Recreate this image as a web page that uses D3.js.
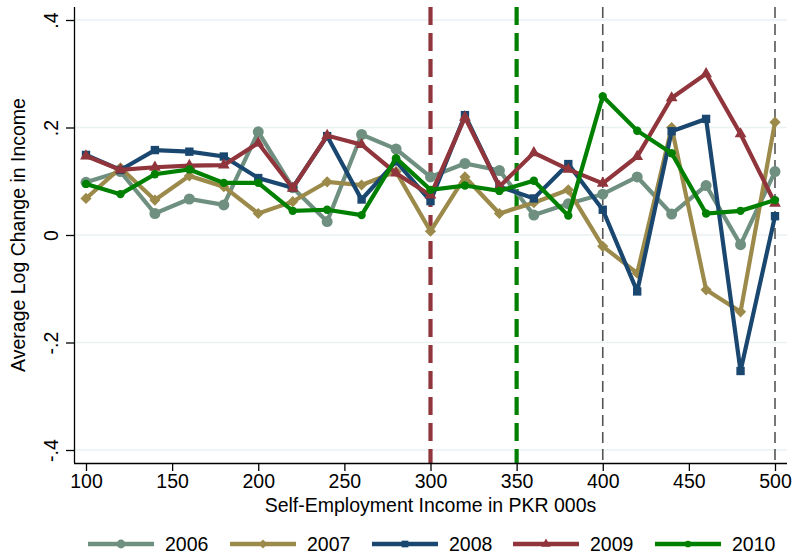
<!DOCTYPE html>
<html>
<head>
<meta charset="utf-8">
<script src="https://cdn.jsdelivr.net/npm/d3@7"></script>
<style>
  body { margin: 0; background: #fff; }
  text { font-family: "Liberation Sans", Arial, sans-serif; fill: #000; }
</style>
</head>
<body>
<svg id="chart" width="793" height="556"></svg>
<script>
// Income bins (PKR 000s)
const incomeLevels = [100,120,140,160,180,200,220,240,260,280,300,320,340,360,380,400,420,440,460,480,500];

// Average log change in income, by survey year
const series2006 = [0.098,0.118,0.040,0.067,0.056,0.192,0.088,0.025,0.187,0.160,0.108,0.133,0.120,0.037,0.058,0.076,0.108,0.039,0.092,-0.018,0.118];
const series2007 = [0.068,0.125,0.065,0.110,0.090,0.040,0.062,0.099,0.093,0.118,0.007,0.108,0.040,0.060,0.084,-0.021,-0.071,0.200,-0.102,-0.143,0.210];
const series2008 = [0.149,0.121,0.158,0.155,0.146,0.106,0.088,0.184,0.066,0.137,0.063,0.223,0.090,0.068,0.132,0.047,-0.105,0.193,0.216,-0.253,0.035];
const series2009 = [0.147,0.121,0.126,0.129,0.130,0.171,0.087,0.185,0.168,0.115,0.074,0.219,0.090,0.153,0.122,0.096,0.146,0.255,0.300,0.188,0.059];
const series2010 = [0.095,0.076,0.113,0.122,0.097,0.097,0.045,0.047,0.037,0.143,0.084,0.092,0.082,0.101,0.036,0.258,0.194,0.152,0.040,0.045,0.065];

const years = ["2006","2007","2008","2009","2010"];
const xTicks = [100,150,200,250,300,350,400,450,500];
const yTicks = [-0.4,-0.2,0,0.2,0.4];
const yTickLabels = ["-.4","-.2","0",".2",".4"];
const thresholdLines = [300,350];
const referenceLines = [400,500];

const xTitle = "Self-Employment Income in PKR 000s";
const yTitle = "Average Log Change in Income";

// Styles
const colors = ["#6f9081","#9c8a4b","#1a476f","#90353b","#008000"];
const shapes = ["circle","diamond","square","triangle","smallcircle"];
const thresholdColors = ["#90353b","#008000"];

const svg = d3.select("#chart");
const FONT = 19.5;

const x = d3.scaleLinear().domain([100,500]).range([86,775]);
const y = d3.scaleLinear().domain([-0.4,0.4]).range([450,20]);

const axisX = 74, axisY = 463, plotRight = 787, plotTop = 7;

// gridlines
svg.append("g").selectAll("line").data(yTicks).join("line")
  .attr("x1", axisX).attr("x2", plotRight)
  .attr("y1", d => y(d)).attr("y2", d => y(d))
  .attr("stroke", "#eaf2f3").attr("stroke-width", 1.3);

// threshold and reference lines
svg.append("g").selectAll("line").data(referenceLines).join("line")
  .attr("x1", d => x(d)).attr("x2", d => x(d))
  .attr("y1", plotTop).attr("y2", axisY)
  .attr("stroke", "#555").attr("stroke-width", 1.6)
  .attr("stroke-dasharray", "11,6");

svg.append("g").selectAll("line").data(thresholdLines).join("line")
  .attr("x1", d => x(d)).attr("x2", d => x(d))
  .attr("y1", plotTop).attr("y2", axisY)
  .attr("stroke", (d,i) => thresholdColors[i]).attr("stroke-width", 4.2)
  .attr("stroke-dasharray", "18,8");

// marker path generator
function markerPath(shape, scale) {
  const s = scale || 1;
  switch (shape) {
    case "circle": return d3.symbol(d3.symbolCircle, 95*s*s)();
    case "smallcircle": return d3.symbol(d3.symbolCircle, 55*s*s)();
    case "square": return d3.symbol(d3.symbolSquare, 70*s*s)();
    case "triangle": return d3.symbol(d3.symbolTriangle, 60*s*s)();
    case "diamond": {
      const r = 5.6*s;
      return `M0,${-r}L${r},0L0,${r}L${-r},0Z`;
    }
  }
}

const allSeries = [series2006, series2007, series2008, series2009, series2010];
const line = d3.line().x((d,i) => x(incomeLevels[i])).y(d => y(d));

allSeries.forEach((vals, k) => {
  const g = svg.append("g");
  g.append("path").datum(vals)
    .attr("d", line)
    .attr("fill", "none").attr("stroke", colors[k])
    .attr("stroke-width", 4.2).attr("stroke-linejoin", "miter").attr("stroke-miterlimit", 3);
  g.selectAll("path.m").data(vals).join("path").attr("class","m")
    .attr("d", markerPath(shapes[k]))
    .attr("transform", (d,i) => `translate(${x(incomeLevels[i])},${y(d)})`)
    .attr("fill", colors[k]);
});

// axes
const xAxis = d3.axisBottom(x).tickValues(xTicks).tickSize(8).tickFormat(d3.format("d"));
const gx = svg.append("g").attr("transform", `translate(0,${axisY})`).call(xAxis);
gx.select(".domain").attr("d", `M${axisX},0.5H${plotRight}`).attr("stroke", "#000").attr("stroke-width", 1.3);
gx.selectAll(".tick line").attr("stroke", "#000").attr("stroke-width", 1.3);
gx.selectAll(".tick text").attr("font-size", FONT).attr("font-family", "Liberation Sans, Arial, sans-serif")
  .attr("y", 11).attr("dy", "0.71em").attr("fill", "#000");

const yAxis = d3.axisLeft(y).tickValues(yTicks).tickSize(8).tickFormat((d,i) => yTickLabels[i]);
const gy = svg.append("g").attr("transform", `translate(${axisX},0)`).call(yAxis);
gy.select(".domain").attr("d", `M0.5,${plotTop}V${axisY}`).attr("stroke", "#000").attr("stroke-width", 1.3);
gy.selectAll(".tick line").attr("stroke", "#000").attr("stroke-width", 1.3);
gy.selectAll(".tick text").attr("font-size", FONT).attr("font-family", "Liberation Sans, Arial, sans-serif")
  .attr("x", null).attr("dy", null).attr("fill", "#000")
  .attr("text-anchor", "middle")
  .attr("transform", "translate(-16,0) rotate(-90)");

// axis titles
svg.append("text").attr("x", (86+775)/2).attr("y", 512)
  .attr("text-anchor", "middle").attr("font-size", FONT).text(xTitle);
svg.append("text").attr("transform", `translate(25,${y(0)}) rotate(-90)`)
  .attr("text-anchor", "middle").attr("font-size", FONT).text(yTitle);

// legend
const legendStarts = [88,230,372,513,655];
const legendY = 544;
const lg = svg.append("g");
years.forEach((yr, k) => {
  const x0 = legendStarts[k];
  lg.append("line").attr("x1", x0).attr("x2", x0+66).attr("y1", legendY).attr("y2", legendY)
    .attr("stroke", colors[k]).attr("stroke-width", 4.5);
  lg.append("path").attr("d", markerPath(shapes[k], 0.8))
    .attr("transform", `translate(${x0+33},${legendY})`).attr("fill", colors[k]);
  lg.append("text").attr("x", x0+77).attr("y", 551).attr("font-size", FONT).text(yr);
});
</script>
</body>
</html>
